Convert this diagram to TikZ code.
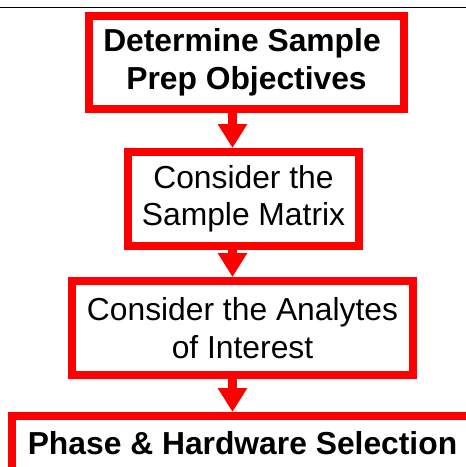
\documentclass[tikz,border=0pt]{standalone}
\usepackage{fontspec}
\setmainfont{Liberation Sans}
\usetikzlibrary{arrows.meta}

\begin{document}
\begin{tikzpicture}[x=1pt,y=-1pt,
		>={Triangle[width=28pt,length=24pt]}]
		\tikzstyle{every box}=[draw=red,line width=8pt,fill=white,text=black,
			align=center,inner sep=0pt,font=\fontsize{31.8}{37.5}\selectfont]
		\tikzstyle{flow}=[->,draw=red,line width=9pt]
		
		\useasboundingbox (0,0) rectangle (466,467);
		\clip (0,0) rectangle (466,467);
		\draw[line width=1.2pt] (0,7.5) -- (466,7.5);
		
		\node[every box,minimum width=315pt,minimum height=93pt] (obj) at (246.5,62.5)
			{\bfseries Determine Sample\hspace*{9pt}\\\bfseries Prep Objectives};
		\node[every box,minimum width=231pt,minimum height=94pt] (mat) at (243.5,199)
			{Consider the\\Sample Matrix};
		\node[every box,minimum width=341pt,minimum height=94pt] (ana) at (242.5,328)
			{Consider the Analytes\\of Interest};
		\node[every box,minimum width=461pt,minimum height=55pt] (sel) at (242.5,443.5)
			{\bfseries Phase \& Hardware Selection};
		
		\coordinate (ax) at (232.5,0);
		
		\path (obj.south -| ax) edge[flow] (mat.north -| ax)
		(mat.south -| ax) edge[flow] (ana.north -| ax)
		(ana.south -| ax) edge[flow] (sel.north -| ax);
\end{tikzpicture}
\end{document}
